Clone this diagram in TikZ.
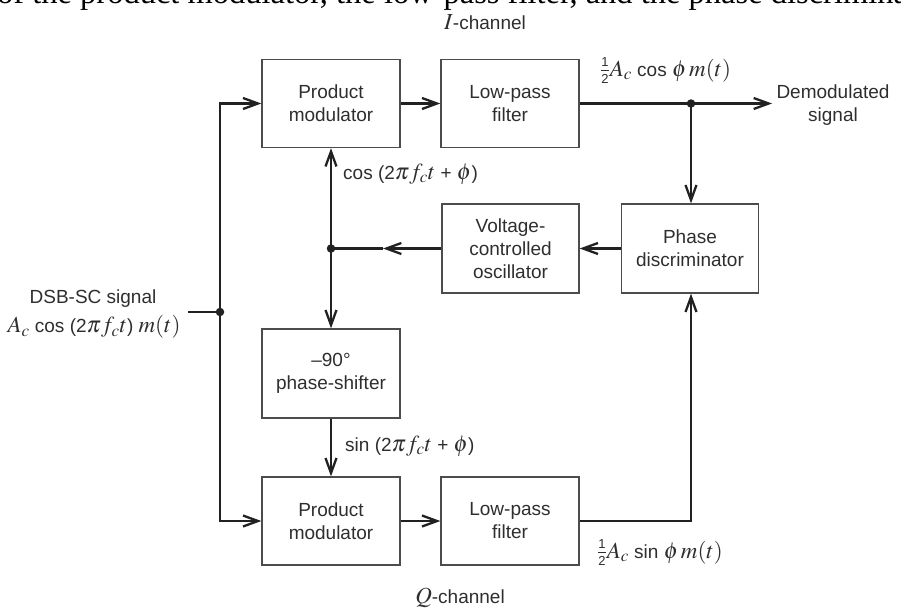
\documentclass[tikz,border=0pt]{standalone}
\usepackage{mathptmx}
\usepackage{fontspec}
\setmainfont{Liberation Sans}
\newfontfamily\serifrm{Liberation Serif}
\usetikzlibrary{arrows.meta}
\definecolor{boxc}{gray}{0.30}
\definecolor{wirec}{gray}{0.13}
\definecolor{txtc}{gray}{0.18}
\newcommand\mt[1]{{\fontsize{23}{23}\selectfont$#1$}}
\newcommand\hlf{{\fontsize{23}{23}\selectfont$\frac{\mbox{\fontsize{13}{13}\selectfont 1}}{\mbox{\fontsize{13}{13}\selectfont 2}}$}}
\begin{document}
\begin{tikzpicture}[x=1pt,y=-1pt,
  font=\fontsize{19}{23}\selectfont,
  blk/.style={draw=boxc,line width=1.3pt,minimum width=138pt,minimum height=88pt,inner sep=0pt,align=center,text=txtc},
  wire/.style={draw=wirec,line width=2.3pt},
  arr/.style={wire,-{Straight Barb[length=15pt,width=11pt]}},
  jdot/.style={circle,fill=wirec,inner sep=0pt,minimum size=8.5pt},
  lbl/.style={text=txtc,inner sep=0pt}]
\useasboundingbox (0,0) rectangle (901,611);
% cropped caption line at top
\node[anchor=base west,inner sep=0pt,font=\serifrm\fontsize{32.5}{34}\selectfont] (cap) at (-3,3)
  {of the product modulator, the low-pass filter, and the phase discriminat};
% blocks
\node[blk] (pm1) at (331,103.5) {Product\\modulator};
\node[blk] (lpf1) at (510,103.5) {Low-pass\\filter};
\node[blk,minimum width=137pt,minimum height=89pt] (vco) at (510.5,248.5) {Voltage-\\controlled\\oscillator};
\node[blk,minimum width=137pt,minimum height=89pt] (pd) at (690,248.5) {Phase\\discriminator};
\node[blk,minimum height=89pt] (ps) at (331,373.5) {--90\textdegree\\phase-shifter};
\node[blk] (pm2) at (331,521) {Product\\modulator};
\node[blk] (lpf2) at (510,521) {Low-pass\\filter};
% junctions and free ends
\node[jdot] (jo) at (691,103.5) {};
\node[jdot] (jv) at (331,248.5) {};
\node[jdot] (ji) at (220,312) {};
\coordinate (outend) at (772,103.5);
\coordinate (vmid) at (383,248.5);
\coordinate (inL) at (188,312);
% connectors
\draw[arr] (pm1.east) -- (lpf1.west);
\draw[arr] (lpf1.east) -- (outend);
\draw[arr] (jo.center) -- (jo.center |- pd.north);
\draw[arr] (pd.west) -- (vco.east);
\draw[arr] (vco.west) -- (vmid);
\draw[wire] (vmid) -- (jv.center);
\draw[arr] (jv.center) -- (pm1.south);
\draw[arr] (jv.center) -- (ps.north);
\draw[arr] (ps.south) -- (pm2.north);
\draw[arr] (pm2.east) -- (lpf2.west);
\draw[arr] (lpf2.east) -| (jo.center |- pd.south);
\draw[wire] (inL) -- (ji.center);
\draw[arr] (ji.center) |- (pm1.west);
\draw[arr] (ji.center) |- (pm2.west);
% labels
\node[lbl] (ich) at (485,22) {\mt{I}-channel};
\node[lbl] (qch) at (460,598) {\mt{Q}-channel};
\node[lbl,anchor=west] (lcos) at (343,174) {cos (2\mt{\pi f_c t} + \mt{\phi})};
\node[lbl,anchor=west] (lsin) at (345,446) {sin (2\mt{\pi f_c t} + \mt{\phi})};
\node[lbl,anchor=west] (lio) at (600,71) {\hlf\mt{A_c} cos \mt{\phi\,m(t)}};
\node[lbl,anchor=west] (lqo) at (597,553) {\hlf\mt{A_c} sin \mt{\phi\,m(t)}};
\node[lbl,align=center] (demod) at (833,105) {Demodulated\\signal};
\node[lbl] (dsb1) at (93,299) {DSB-SC signal};
\node[lbl] (dsb2) at (94,327) {\mt{A_c} cos (2\mt{\pi f_c t}) \mt{m(t)}};
\end{tikzpicture}
\end{document}
